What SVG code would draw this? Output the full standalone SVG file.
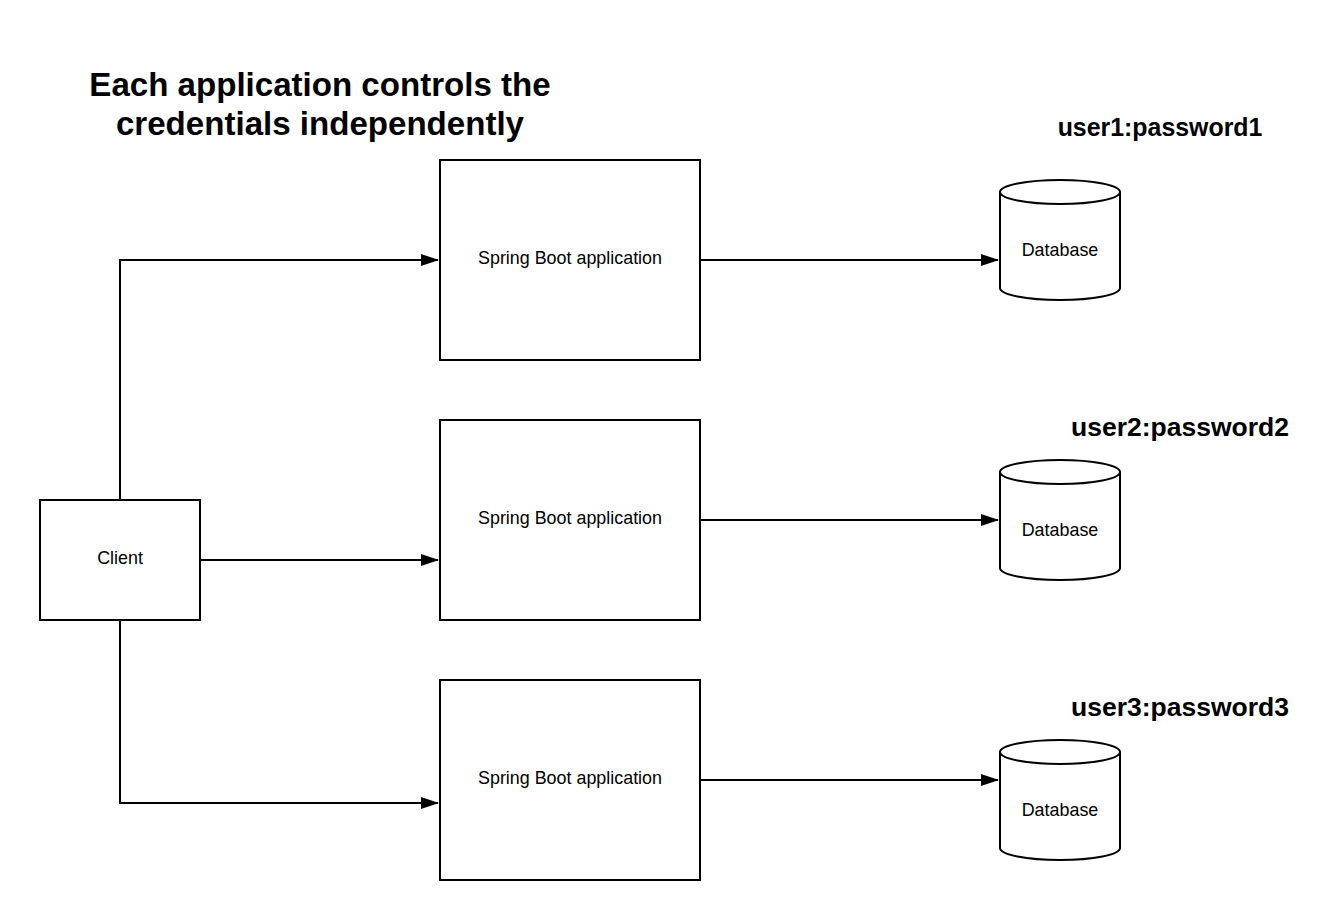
<svg xmlns="http://www.w3.org/2000/svg" width="1340" height="920" viewBox="0 0 1340 920">
<style>
.box{fill:#fff;stroke:#000;stroke-width:2}
.lbl{font-family:"Liberation Sans",Arial,sans-serif;font-size:17.9px;fill:#000;text-anchor:middle}
.title{font-family:"Liberation Sans",Arial,sans-serif;font-weight:bold;fill:#000;text-anchor:middle}
.edge{fill:none;stroke:#000;stroke-width:2;marker-end:url(#arr)}
</style>
<defs>
<marker id="arr" markerWidth="18" markerHeight="12" refX="17" refY="6" orient="auto" markerUnits="userSpaceOnUse">
<path d="M0,0 L18,6 L0,12 Z" fill="#000"/>
</marker>
</defs>
<rect width="1340" height="920" fill="#fff"/>
<g id="title">
<text class="title" x="320" y="96" font-size="33.1">Each application controls the</text>
<text class="title" x="320" y="135" font-size="33.1">credentials independently</text>
</g>
<g id="cred1"><text class="title" x="1160" y="136" font-size="24.9">user1:password1</text></g>
<g id="cred2"><text class="title" x="1180" y="436" font-size="26.5">user2:password2</text></g>
<g id="cred3"><text class="title" x="1180" y="716" font-size="26.5">user3:password3</text></g>
<g id="connectors">
<path class="edge" d="M120,500 V260 H438"/>
<path class="edge" d="M200,560 H438"/>
<path class="edge" d="M120,620 V803 H438"/>
<path class="edge" d="M700,260 H998"/>
<path class="edge" d="M700,520 H998"/>
<path class="edge" d="M700,780 H998"/>
</g>
<g id="client">
<rect class="box" x="40" y="500" width="160" height="120"/>
<text class="lbl" x="120" y="564">Client</text>
</g>
<g id="app1">
<rect class="box" x="440" y="160" width="260" height="200"/>
<text class="lbl" x="570" y="264">Spring Boot application</text>
</g>
<g id="app2">
<rect class="box" x="440" y="420" width="260" height="200"/>
<text class="lbl" x="570" y="524">Spring Boot application</text>
</g>
<g id="app3">
<rect class="box" x="440" y="680" width="260" height="200"/>
<text class="lbl" x="570" y="784">Spring Boot application</text>
</g>
<g id="db1">
<path class="box" d="M1000,192 V288 A60,12 0 0 0 1120,288 V192"/>
<ellipse class="box" cx="1060" cy="192" rx="60" ry="12"/>
<text class="lbl" x="1060" y="256">Database</text>
</g>
<g id="db2">
<path class="box" d="M1000,472 V568 A60,12 0 0 0 1120,568 V472"/>
<ellipse class="box" cx="1060" cy="472" rx="60" ry="12"/>
<text class="lbl" x="1060" y="536">Database</text>
</g>
<g id="db3">
<path class="box" d="M1000,752 V848 A60,12 0 0 0 1120,848 V752"/>
<ellipse class="box" cx="1060" cy="752" rx="60" ry="12"/>
<text class="lbl" x="1060" y="816">Database</text>
</g>
</svg>
